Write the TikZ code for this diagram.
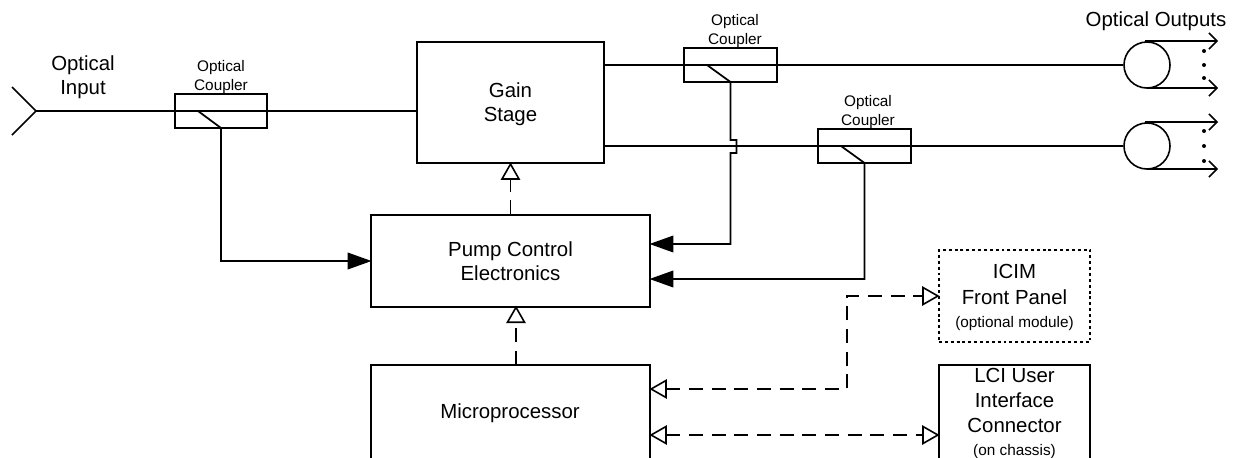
\documentclass[tikz,border=0pt]{standalone}
\usepackage{fontspec}
\setmainfont{Liberation Sans}
\usetikzlibrary{arrows.meta}
\tikzset{
  x=0.75pt,y=-0.75pt,
  wire/.style={line width=1.3pt,line join=miter},
  thin wire/.style={line width=1.1pt},
  box/.style={draw,line width=1.2pt,inner sep=0pt,align=center,font=\fontsize{15.3}{18}\selectfont},
  couplerbox/.style={draw,line width=1.3pt,inner sep=0pt,minimum width=69.5pt,minimum height=25.5pt},
  label big/.style={inner sep=0pt,align=center,font=\fontsize{15.3}{18}\selectfont},
  label small/.style={inner sep=0pt,align=center,font=\fontsize{11.5}{14.4}\selectfont},
  spool/.style={draw,circle,line width=1.2pt,inner sep=0pt,minimum size=34.5pt},
  solidtip/.style={-{Triangle[length=18pt,width=12.5pt]},shorten >=-1pt},
  dash line/.style={line width=1.2pt,dash pattern=on 10.5pt off 6.5pt},
  opentip/.style={-{Triangle[open,fill=white,length=13pt,width=14.5pt,line width=1.2pt]},shorten >=-1pt},
  opentips/.style={{Triangle[open,fill=white,length=13pt,width=14.5pt,line width=1.2pt]}-{Triangle[open,fill=white,length=13pt,width=14.5pt,line width=1.2pt]},shorten >=-1pt,shorten <=-1pt},
  outtip/.style={-{Straight Barb[length=6pt,width=12pt,line width=1.2pt]}},
  dotmark/.style={circle,fill,inner sep=0pt,minimum size=3pt},
  dotted box/.style={dash pattern=on 2.2pt off 2.2pt},
}
\newcommand{\smalltxt}[1]{{\fontsize{11.5}{14}\selectfont #1}}
\begin{document}
\begin{tikzpicture}
\useasboundingbox (0,0) rectangle (1238,457);
\clip (0,0) rectangle (1238,457);
% blocks
\node[box,minimum width=140.25pt,minimum height=90.75pt] (gain) at (510.5,102.5) {};
\node[label big] (gaintxt) at (510.5,104) {Gain\\Stage};
\node[box,minimum width=209.25pt,minimum height=69pt] (pump) at (510.5,261) {};
\node[label big] (pumptxt) at (510.5,261) {Pump Control\\Electronics};
\node[box,minimum width=209.25pt,minimum height=70.5pt] (micro) at (510.5,412) {};
\node[label big] (microtxt) at (510,413) {Microprocessor};
\node[box,dotted box,minimum width=113.25pt,minimum height=69pt] (icim) at (1014.5,296) {};
\node[label big] (icimtxt) at (1014.5,297.5) {ICIM\\[1.5pt]Front Panel\\[-1pt]\smalltxt{(optional module)}};
\node[box,minimum width=113.25pt,minimum height=72pt] (lci) at (1014.5,413) {};
\node[label big] (lcitxt) at (1014.5,413.5) {LCI User\\[0.8pt]Interface\\[0.8pt]Connector\\[-1pt]\smalltxt{(on chassis)}};
% couplers
\node[couplerbox] (c1) at (221,111) {};
\node[couplerbox] (c2) at (730.5,65) {};
\node[couplerbox] (c3) at (864.5,146) {};
\coordinate (c1t) at (198,111);
\coordinate (c2t) at (707,65);
\coordinate (c3t) at (841,146);
\node[spool] (s1) at (1147,65) {};
\node[spool] (s2) at (1147,146) {};
% labels
\node[label big] (inlab) at (83,77) {Optical\\Input};
\node[label small] (cl1) at (221,77) {Optical\\Coupler};
\node[label small] (cl2) at (735,31) {Optical\\Coupler};
\node[label small] (cl3) at (868,112) {Optical\\Coupler};
\node[label big] (outlab) at (1156,21) {Optical Outputs};
% input fork
\coordinate (fork) at (36,111);
\coordinate (fa) at (12,87);
\coordinate (fb) at (12,135);
\draw[wire] (fa) -- (fork) -- (fb);
% optical lines
\draw[thin wire] (fork) -- (gain.west |- fork);
\coordinate (g1) at (gain.east |- s1);
\coordinate (g2) at (gain.east |- s2);
\draw[thin wire] (g1) -- (s1.west);
\draw[thin wire] (g2) -- (s2.west);
% coupler taps
\coordinate (c1b) at (221,128);
\coordinate (c2b) at (730.5,82);
\coordinate (c3b) at (864.5,163);
\coordinate (p1) at (pump.east |- 0,244);
\coordinate (p2) at (pump.east |- 0,279);
\draw[wire,solidtip] (c1t) -- (c1b) |- (pump.west);
\draw[wire,solidtip] (c2t) -- (c2b) -- (730.5,140) -- (736.5,140) -- (736.5,153) -- (730.5,153) |- (p1);
\draw[wire,solidtip] (c3t) -- (c3b) |- (p2);
% spool outputs
\coordinate (o1) at (1218,41);
\coordinate (o2) at (1218,88);
\coordinate (o3) at (1218,122);
\coordinate (o4) at (1218,169);
\draw[thin wire,outtip] (1145,41) -- (o1);
\draw[thin wire,outtip] (1147,88) -- (o2);
\draw[thin wire,outtip] (1145,122) -- (o3);
\draw[thin wire,outtip] (1147,169) -- (o4);
\foreach \yy in {51,65,78,131,146,161} \node[dotmark] at (1204,\yy) {};
% dashed control
\coordinate (m1) at (micro.east |- 0,389);
\coordinate (m2) at (micro.east |- 0,435);
\coordinate (l2) at (lci.west |- m2);
\draw[dash line,opentip] (pump.north) -- (gain.south);
\draw[dash line,opentip] (516,365) -- (516,307);
\draw[dash line,opentips] (m1) -| (847,296) -- (icim.west);
\draw[dash line,opentips] (m2) -- (l2);
\end{tikzpicture}
\end{document}
